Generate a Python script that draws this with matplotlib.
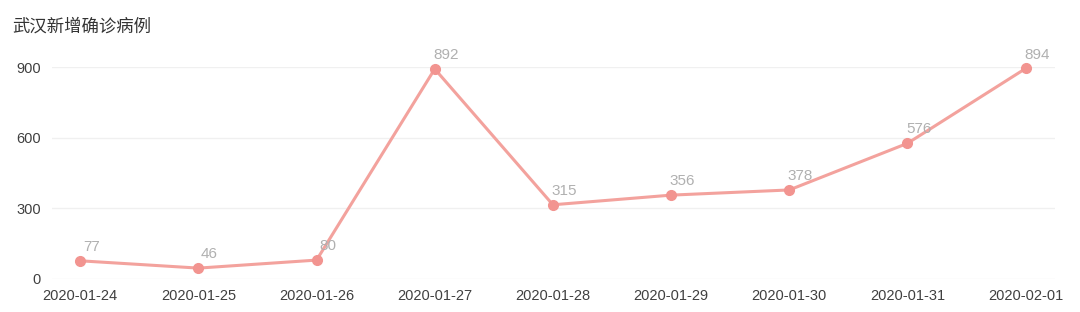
import matplotlib.pyplot as plt

plt.rcParams['font.family'] = ['Liberation Sans', 'Noto Sans CJK SC', 'DejaVu Sans']

dates = ['2020-01-24', '2020-01-25', '2020-01-26', '2020-01-27', '2020-01-28',
         '2020-01-29', '2020-01-30', '2020-01-31', '2020-02-01']
new_cases = [77, 46, 80, 892, 315, 356, 378, 576, 894]
y_ticks = [0, 300, 600, 900]
title = '武汉新增确诊病例'

line_color = '#f3a29d'
marker_color = '#f29490'
label_color = '#b0b0b0'
text_color = '#404040'

fig = plt.figure(figsize=(10.8, 3.12), dpi=100)
ax = fig.add_axes([0.048, 0.106, 0.929, 0.679])

x = list(range(len(dates)))
ax.plot(x, new_cases, color=line_color, linewidth=2.2, marker='o', markersize=7,
        markerfacecolor=marker_color, markeredgecolor=marker_color, clip_on=False, zorder=3)

for xi, v in zip(x, new_cases):
    ax.annotate(str(v), (xi, v), xytext=(8, 5), textcoords='offset points',
                ha='center', va='bottom', color=label_color, fontsize=11, zorder=4)

ax.set_xlim(-0.24, 8.25)
ax.set_ylim(0, 900)
ax.set_xticks(x)
ax.set_xticklabels(dates)
ax.set_yticks(y_ticks)
ax.tick_params(axis='both', length=0, labelsize=10.5, labelcolor=text_color)
ax.tick_params(axis='x', pad=7)
ax.tick_params(axis='y', pad=8)

ax.grid(axis='y', color='#f0f0f0', linewidth=1)
ax.set_axisbelow(True)
for s in ax.spines.values():
    s.set_visible(False)

fig.text(0.011, 0.915, title, fontsize=12.5, color='#333333', ha='left', va='center')

fig.savefig('out.png', dpi=100, facecolor='white')
